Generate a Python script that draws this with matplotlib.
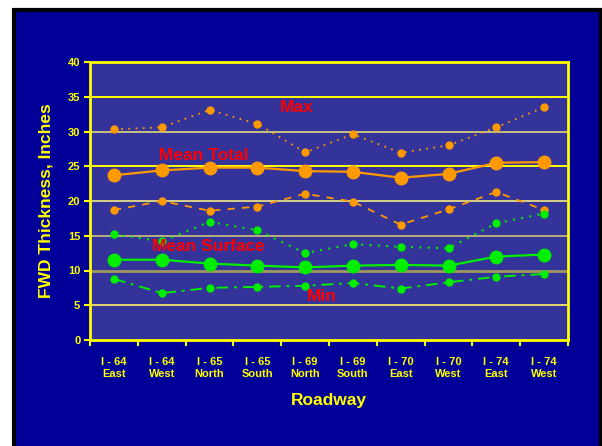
import matplotlib
matplotlib.use("Agg")
import matplotlib.pyplot as plt
from matplotlib.patches import Rectangle
import numpy as np

plt.rcParams['font.family'] = ['Liberation Sans', 'DejaVu Sans']

categories = ["I - 64\nEast", "I - 64\nWest", "I - 65\nNorth", "I - 65\nSouth", "I - 69\nNorth",
              "I - 69\nSouth", "I - 70\nEast", "I - 70\nWest", "I - 74\nEast", "I - 74\nWest"]
max_total = [30.3, 30.6, 33.1, 31.1, 27.0, 29.6, 26.95, 28.0, 30.6, 33.5]
mean_total = [23.7, 24.4, 24.8, 24.8, 24.3, 24.2, 23.35, 23.9, 25.5, 25.6]
min_total = [18.7, 20.0, 18.6, 19.2, 21.05, 19.9, 16.6, 18.8, 21.3, 18.7]
max_surface = [15.2, 14.2, 17.0, 15.8, 12.5, 13.8, 13.4, 13.2, 16.8, 18.2]
mean_surface = [11.55, 11.55, 11.0, 10.7, 10.45, 10.7, 10.8, 10.7, 12.0, 12.3]
min_surface = [8.8, 6.75, 7.5, 7.65, 7.8, 8.2, 7.4, 8.3, 9.1, 9.5]

YELLOW = '#ffff00'
ORANGE = '#ff9900'
GREEN = '#00ee00'
RED = '#ff0000'

W, H = 602, 446
fig = plt.figure(figsize=(W / 100, H / 100), dpi=100)
fig.patch.set_facecolor('white')
bg = Rectangle((13.5 / W, -0.05), (W - 15) / W, (H - 9.5) / H + 0.05, transform=fig.transFigure,
               facecolor='#000099', edgecolor='black', linewidth=3, zorder=-10)
fig.add_artist(bg)

ax = fig.add_axes([90 / W, (H - 340) / H, (568 - 90) / W, (340 - 62) / H])
ax.set_zorder(1)
ax.set_facecolor('#333399')

x = np.arange(len(categories))

grid_colors = {5: '#e6d870', 10: '#a09860', 15: '#b8b080', 20: '#d8d088', 25: YELLOW, 30: '#c8c080', 35: YELLOW}
for yv, c in grid_colors.items():
    ax.axhline(yv, color=c, linewidth=2.0 if yv == 10 else 1.4, zorder=1)

ax.plot(x, max_total, color=ORANGE, linestyle=(0, (1, 3)), linewidth=1.3, marker='o', markersize=5, zorder=3)
ax.plot(x, mean_total, color=ORANGE, linestyle='-', linewidth=1.6, marker='o', markersize=9, zorder=3)
ax.plot(x, min_total, color=ORANGE, linestyle=(0, (4, 4)), linewidth=1.3, marker='o', markersize=5, zorder=3)
ax.plot(x, max_surface, color=GREEN, linestyle=(0, (1, 3)), linewidth=1.5, marker='o', markersize=5, zorder=3)
ax.plot(x, mean_surface, color=GREEN, linestyle='-', linewidth=1.6, marker='o', markersize=9, zorder=3)
ax.plot(x, min_surface, color=GREEN, linestyle=(0, (6, 3, 1.5, 3)), linewidth=1.4, marker='o', markersize=5, zorder=3)

tkw = dict(color=RED, fontsize=12.5, fontweight='bold', ha='center', va='center', zorder=4)
ax.text(3.83, 33.5, 'Max', **tkw)
ax.text(1.88, 26.6, 'Mean Total', **tkw)
ax.text(1.97, 13.4, 'Mean Surface', **tkw)
ax.text(4.35, 6.2, 'Min', **tkw)

ax.set_xlim(-0.5, len(categories) - 0.5)
ax.set_ylim(0, 40)
ax.set_yticks(range(0, 41, 5))
ax.set_xticks(np.arange(-0.5, len(categories), 1.0))
ax.set_xticklabels([])
ax.set_xticks(x, minor=True)
ax.set_xticklabels(categories, minor=True)
ax.tick_params(axis='x', which='major', direction='out', length=4, width=1.5, color=YELLOW)
ax.tick_params(axis='x', which='minor', length=0, pad=12, labelsize=8, labelcolor=YELLOW)
ax.tick_params(axis='y', direction='out', length=4, width=1.5, color=YELLOW, labelsize=8, labelcolor=YELLOW, pad=3)
for lab in ax.get_xticklabels(minor=True) + ax.get_yticklabels():
    lab.set_fontweight('bold')
    lab.set_linespacing(1.35)

for s in ax.spines.values():
    s.set_color(YELLOW)
    s.set_linewidth(2)
    s.set_zorder(5)

ax.set_xlabel('Roadway', color=YELLOW, fontsize=12.5, fontweight='bold', labelpad=10)
ax.set_ylabel('FWD Thickness, Inches', color=YELLOW, fontsize=12.5, fontweight='bold', labelpad=10)

fig.savefig('out.png', dpi=100, facecolor=fig.get_facecolor())
